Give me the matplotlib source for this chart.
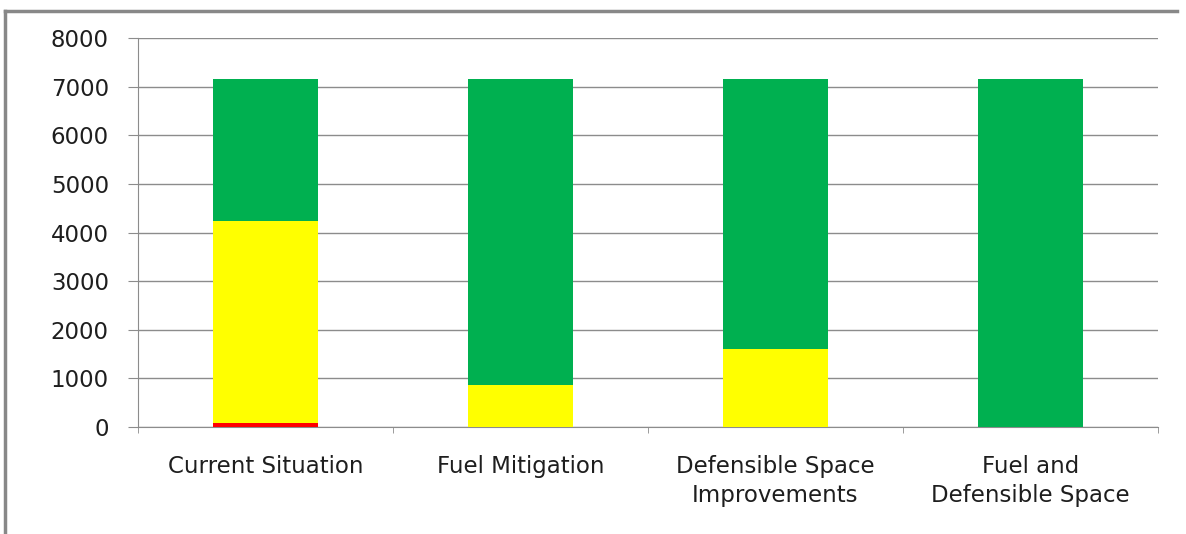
import numpy as np
import matplotlib.pyplot as plt
from matplotlib.lines import Line2D

# houses by hazard class for each treatment scenario
scenarios = ["Current Situation", "Fuel Mitigation",
             "Defensible Space\nImprovements", "Fuel and\nDefensible Space"]
high = [80, 0, 0, 0]
moderate = [4160, 860, 1600, 0]
low = [2920, 6300, 5560, 7160]

plt.rcParams['font.family'] = ['DejaVu Sans']

fig = plt.figure(figsize=(11.86, 5.34), dpi=100)
ax = fig.add_axes([138/1186, 1 - 427/534, 1020/1186, 389/534])

xx = np.arange(len(scenarios))
w = 0.41
high = np.array(high)
moderate = np.array(moderate)
low = np.array(low)
ax.bar(xx, high, w, color="#ff0000", zorder=3)
ax.bar(xx, moderate, w, bottom=high, color="#ffff00", zorder=3)
ax.bar(xx, low, w, bottom=high + moderate, color="#00b050", zorder=3)

ax.set_xlim(-0.5, 3.5)
ax.set_ylim(0, 8000)
ax.set_yticks(np.arange(0, 8001, 1000))
ax.yaxis.grid(True, color="#8c8c8c", linewidth=1)
ax.set_axisbelow(True)

ax.set_xticks(xx)
ax.set_xticklabels(scenarios, fontsize=16.5, color="#1e1e1e", linespacing=1.3)
ax.set_xticks(np.arange(-0.5, 3.6, 1), minor=True)
ax.tick_params(axis="x", which="major", length=0, pad=20.5)
ax.tick_params(axis="x", which="minor", length=4, color="#8c8c8c", direction="out")
ax.tick_params(axis="y", length=7, color="#8c8c8c", labelsize=16.5, pad=14,
               labelcolor="#1e1e1e")

for s in ["top", "right"]:
    ax.spines[s].set_visible(False)
for s in ["left", "bottom"]:
    ax.spines[s].set_color("#8c8c8c")

# outer chart frame
fig.add_artist(Line2D([5/1186, 5/1186], [0, 1 - 11/534], color="#888888", lw=2.5))
fig.add_artist(Line2D([5/1186, 1177/1186], [1 - 11/534, 1 - 11/534], color="#888888", lw=2.5))

fig.savefig("out.png", dpi=100)
